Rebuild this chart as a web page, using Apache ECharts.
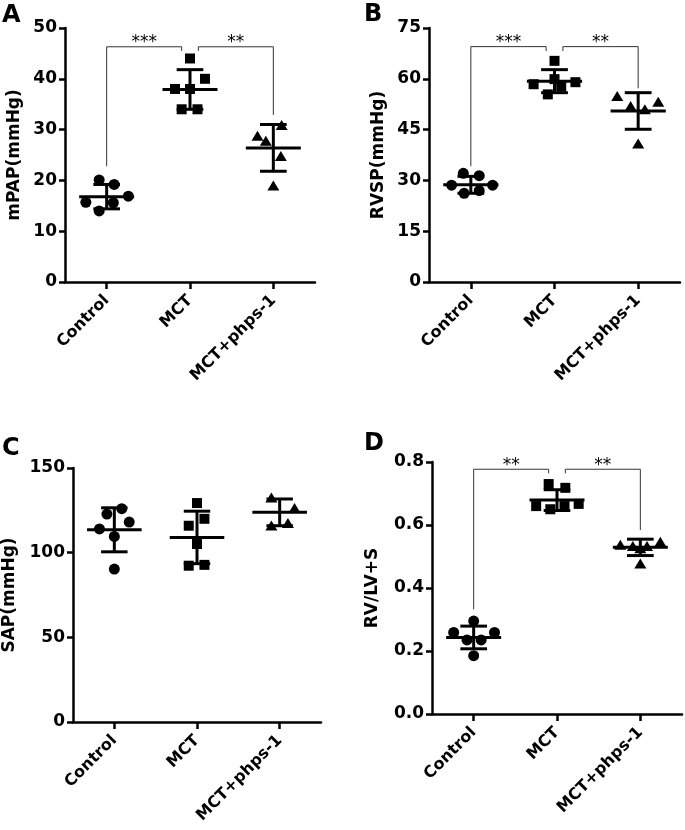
<!DOCTYPE html>
<html><head><meta charset="utf-8">
<script src="https://cdn.jsdelivr.net/npm/echarts@6/dist/echarts.min.js"></script>
<style>html,body{margin:0;padding:0;background:#fff}#c{width:685px;height:830px}</style>
</head><body><div id="c"></div>
<script>
// ---------- data ----------
const categories = ['Control', 'MCT', 'MCT+phps-1'];

// Panel A: mPAP (mmHg)
const mpapControl = [20.1, 19.2, 15.7, 14.0, 15.6, 16.9];
const mpapControlDodge = [-0.09, 0.09, -0.25, -0.09, 0.08, 0.26];
const mpapMCT = [44.0, 40.0, 38.0, 38.0, 34.0, 34.0];
const mpapMCTDodge = [0, 0.18, -0.18, 0, -0.1, 0.09];
const mpapPhps = [30.9, 28.8, 27.8, 24.8, 19.0];
const mpapPhpsDodge = [0.1, -0.19, -0.09, 0.09, 0];
const mpapMean = [16.8, 37.9, 26.4];
const mpapSD = [2.4, 3.9, 4.6];
const mpapSig = [['***', 0, 0.9, 46.3, 22.8, 45.5], ['**', 1.1, 2, 46.3, 45.5, 32.9]];

// Panel B: RVSP (mmHg)
const rvspControl = [32.1, 31.4, 28.6, 28.6, 26.2, 27.0];
const rvspControlDodge = [-0.09, 0.1, -0.23, 0.26, -0.08, 0.1];
const rvspMCT = [65.3, 59.9, 58.4, 59.0, 57.7, 55.4];
const rvspMCTDodge = [0, 0, -0.25, 0.25, 0.08, -0.08];
const rvspPhps = [54.9, 53.2, 52.0, 51.0, 40.9];
const rvspPhpsDodge = [-0.25, 0.24, -0.09, 0.08, 0];
const rvspMean = [28.7, 59.3, 50.5];
const rvspSD = [2.5, 3.4, 5.4];
const rvspSig = [['***', 0, 0.9, 69.5, 34.2, 68.2], ['**', 1.1, 2, 69.5, 68.2, 57.2]];

// Panel C: SAP (mmHg)
const sapControl = [126.0, 122.8, 118.1, 114.0, 109.6, 90.3];
const sapControlDodge = [0.09, -0.09, 0.18, -0.18, 0, 0];
const sapMCT = [129.3, 120.0, 115.9, 105.1, 92.3, 92.8];
const sapMCTDodge = [0, 0.09, -0.1, 0, -0.1, 0.09];
const sapPhps = [132.6, 126.4, 116.1, 117.5];
const sapPhpsDodge = [-0.1, 0.18, -0.1, 0.1];
const sapMean = [113.5, 109.0, 123.8];
const sapSD = [13.0, 15.5, 7.9];
const sapSig = [];

// Panel D: RV/LV+S
const rvControl = [0.295, 0.259, 0.259, 0.235, 0.235, 0.185];
const rvControlDodge = [0, -0.24, 0.25, -0.08, 0.09, 0];
const rvMCT = [0.730, 0.718, 0.660, 0.650, 0.660, 0.667];
const rvMCTDodge = [-0.1, 0.1, -0.25, -0.08, 0.09, 0.26];
const rvPhps = [0.537, 0.533, 0.533, 0.547, 0.526, 0.478];
const rvPhpsDodge = [-0.24, -0.09, 0.08, 0.24, 0, 0];
const rvMean = [0.243, 0.679, 0.529];
const rvSD = [0.036, 0.033, 0.026];
const rvSig = [['**', 0, 0.9, 0.777, 0.332, 0.764], ['**', 1.1, 2, 0.777, 0.764, 0.584]];

// ---------- chart ----------
const FONT = 'DejaVu Sans';
const panels = [
  { letter: 'A', name: 'mPAP(mmHg)', grid: { left: 65, top: 28, width: 250, height: 254 }, min: 0, max: 50, interval: 10, nameGap: 42, dec: 0,
    groups: [[mpapControl, mpapControlDodge], [mpapMCT, mpapMCTDodge], [mpapPhps, mpapPhpsDodge]], mean: mpapMean, sd: mpapSD, sig: mpapSig, lx: 2, ly: 4 },
  { letter: 'B', name: 'RVSP(mmHg)', grid: { left: 429, top: 28, width: 251, height: 254 }, min: 0, max: 75, interval: 15, nameGap: 42, dec: 0,
    groups: [[rvspControl, rvspControlDodge], [rvspMCT, rvspMCTDodge], [rvspPhps, rvspPhpsDodge]], mean: rvspMean, sd: rvspSD, sig: rvspSig, lx: 364, ly: 3 },
  { letter: 'C', name: 'SAP(mmHg)', grid: { left: 70, top: 468, width: 251, height: 254 }, min: 0, max: 150, interval: 50, nameGap: 55, dec: 0,
    groups: [[sapControl, sapControlDodge], [sapMCT, sapMCTDodge], [sapPhps, sapPhpsDodge]], mean: sapMean, sd: sapSD, sig: sapSig, lx: 2, ly: 437 },
  { letter: 'D', name: 'RV/LV+S', grid: { left: 432, top: 462, width: 250, height: 252 }, min: 0, max: 0.8, interval: 0.2, nameGap: 51, dec: 1,
    groups: [[rvControl, rvControlDodge], [rvMCT, rvMCTDodge], [rvPhps, rvPhpsDodge]], mean: rvMean, sd: rvSD, sig: rvSig, lx: 364, ly: 432 }
];
const symbols = [['circle', 11], ['rect', 10], ['triangle', [12, 10]]];

const option = { animation: false, backgroundColor: '#fff', grid: [], xAxis: [], yAxis: [], series: [], title: [] };
const axLine = { show: true, onZero: false, lineStyle: { color: '#000', width: 2.5 } };
const axTick = (len) => ({ show: true, length: len, lineStyle: { color: '#000', width: 2.5 } });

panels.forEach((p, i) => {
  option.grid.push(Object.assign({ containLabel: false }, p.grid));
  option.title.push({ text: p.letter, left: p.lx, top: p.ly, padding: 0,
    textStyle: { fontFamily: FONT, fontWeight: 'bold', fontSize: 24, color: '#000' } });
  option.xAxis.push({ type: 'category', gridIndex: i, data: categories, boundaryGap: true, position: 'bottom',
    axisLine: axLine, axisTick: Object.assign(axTick(7), { alignWithLabel: true }),
    axisLabel: { interval: 0, rotate: 45, margin: 16, color: '#000', fontFamily: FONT, fontWeight: 'bold', fontSize: 16 },
    splitLine: { show: false } });
  option.xAxis.push({ type: 'value', gridIndex: i, min: -0.5, max: 2.5, show: false, position: 'top',
    axisLine: { onZero: false } });
  option.yAxis.push({ type: 'value', gridIndex: i, min: p.min, max: p.max, interval: p.interval, position: 'left',
    axisLine: axLine, axisTick: axTick(6), splitLine: { show: false },
    axisLabel: { margin: 8, color: '#000', fontFamily: FONT, fontWeight: 'bold', fontSize: 17,
      formatter: (v) => v.toFixed(p.dec) },
    name: p.name, nameLocation: 'middle', nameGap: p.nameGap,
    nameTextStyle: { color: '#000', fontFamily: FONT, fontWeight: 'bold', fontSize: 17 } });

  p.groups.forEach((g, gi) => {
    const [vals, dodge] = g;
    option.series.push({ type: 'scatter', xAxisIndex: 2 * i + 1, yAxisIndex: i, z: 3,
      symbol: symbols[gi][0], symbolSize: symbols[gi][1], itemStyle: { color: '#000', opacity: 1 },
      data: vals.map((v, k) => [gi + dodge[k], v]) });
  });

  option.series.push({ type: 'custom', xAxisIndex: 2 * i + 1, yAxisIndex: i, z: 4, clip: false,
    data: p.mean.map((m, gi) => [gi, m, p.sd[gi]]),
    encode: { x: 0, y: 1 },
    renderItem: (params, api) => {
      const x = api.value(0), m = api.value(1), s = api.value(2);
      const c = api.coord([x, m]), t = api.coord([x, m + s]), b = api.coord([x, m - s]);
      const u = api.size([1, 0])[0];
      const st = { stroke: '#000', lineWidth: 3 };
      const ln = (x1, y1, x2, y2) => ({ type: 'line', shape: { x1, y1, x2, y2 }, style: st });
      return { type: 'group', children: [
        ln(c[0] - 0.33 * u, c[1], c[0] + 0.33 * u, c[1]),
        ln(c[0], t[1], c[0], b[1]),
        ln(c[0] - 0.16 * u, t[1], c[0] + 0.16 * u, t[1]),
        ln(c[0] - 0.16 * u, b[1], c[0] + 0.16 * u, b[1])
      ] };
    } });

  if (p.sig.length) {
    option.series.push({ type: 'custom', xAxisIndex: 2 * i + 1, yAxisIndex: i, z: 2, clip: false,
      data: p.sig.map(s => [s[1], s[2], s[3], s[4], s[5]]),
      encode: { x: [0, 1], y: [2, 3, 4] },
      renderItem: (params, api) => {
        const x1 = api.value(0), x2 = api.value(1), top = api.value(2), e1 = api.value(3), e2 = api.value(4);
        const a = api.coord([x1, e1]), b = api.coord([x1, top]), c = api.coord([x2, top]), d = api.coord([x2, e2]);
        const label = p.sig[params.dataIndex][0];
        return { type: 'group', children: [
          { type: 'polyline', shape: { points: [a, b, c, d] }, style: { stroke: '#333', lineWidth: 1, fill: null } },
          { type: 'text', x: (b[0] + c[0]) / 2, y: b[1] - 4,
            style: { text: label, fill: '#000', fontFamily: FONT, fontSize: 17, align: 'center', verticalAlign: 'middle' } }
        ] };
      } });
  }
});

const chart = echarts.init(document.getElementById('c'), null, { renderer: 'canvas' });
chart.setOption(option);
</script>
</body></html>
